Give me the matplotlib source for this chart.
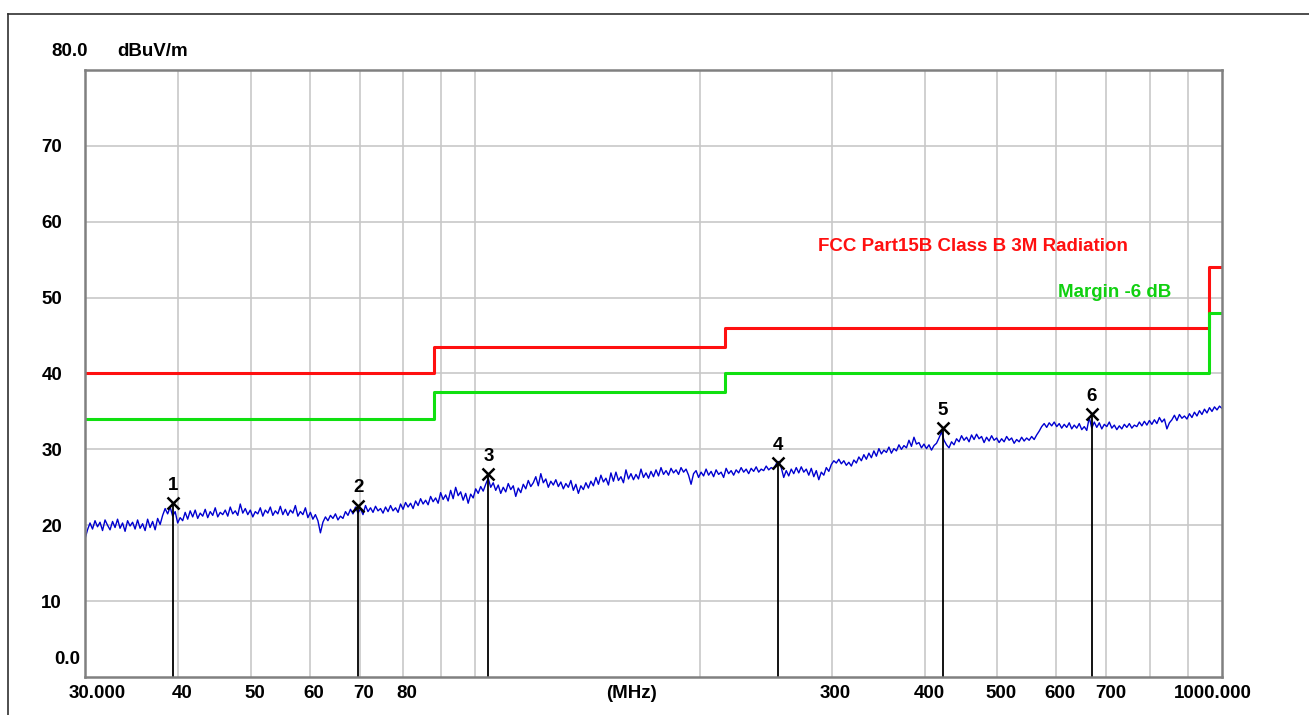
import matplotlib
matplotlib.use('Agg')

import numpy as np
import matplotlib.pyplot as plt
from matplotlib.lines import Line2D
from matplotlib import transforms

plt.rcParams['font.family'] = ['Liberation Sans', 'DejaVu Sans']
plt.rcParams['font.weight'] = 'bold'

# --- Data ---
f_start, f_stop = 30.0, 1000.0

# measured trace (dBuV/m), sweep points spaced evenly on the log axis
trace_db = [
    18.2, 19.4, 20.3, 19.5, 20.6, 19.8, 20.4, 19.3, 20.7, 20.0, 19.4, 20.5, 19.7, 20.8, 19.6, 20.3, 19.2, 20.6, 19.9, 20.4,
    19.5, 20.7, 19.6, 20.2, 19.3, 20.8, 19.7, 20.5, 19.4, 20.9, 20.1, 21.3, 22.2, 21.5, 22.4, 21.2, 21.8, 20.3, 21.0, 20.6,
    21.7, 20.8, 21.9, 21.1, 22.0, 20.9, 21.6, 21.2, 22.1, 21.0, 21.8, 21.3, 22.3, 21.1, 21.7, 21.4, 22.0, 21.2, 22.4, 21.5,
    21.9, 21.3, 22.8, 21.6, 22.2, 21.4, 22.0, 21.1, 21.8, 21.5, 22.3, 21.2, 22.0, 21.6, 22.4, 21.3, 21.9, 21.5, 22.5, 21.4,
    22.1, 21.3, 22.0, 21.6, 22.6, 21.2, 21.8, 21.4, 22.3, 21.0, 21.7, 20.8, 21.4, 20.6, 19.0, 20.4, 21.1, 20.6, 21.3, 20.9,
    21.5, 20.7, 21.2, 20.9, 21.8, 21.3, 22.1, 21.5, 22.4, 21.6, 22.2, 21.4, 22.6, 21.8, 22.3, 21.7, 22.5, 21.9, 22.2, 21.6,
    22.4, 21.8, 22.6, 21.9, 22.3, 21.7, 22.8, 22.1, 23.0, 22.4, 22.9, 22.2, 23.2, 22.6, 23.5, 22.8, 23.3, 22.7, 23.8, 23.1,
    23.6, 22.9, 24.3, 23.4, 24.0, 23.2, 24.6, 23.5, 25.0, 23.9, 24.4, 23.3, 24.2, 22.9, 24.1, 23.6, 24.8, 24.2, 25.1, 24.5,
    25.4, 26.2, 25.0, 25.6, 24.6, 25.3, 24.2, 25.0, 24.4, 25.5, 24.7, 25.2, 23.8, 24.9, 24.3, 25.4, 24.8, 25.9, 25.1, 25.6,
    26.4, 25.2, 26.8, 25.6, 26.1, 25.0, 25.8, 25.3, 26.0, 25.1, 25.7, 24.8, 25.5, 25.0, 25.9, 24.6, 25.4, 24.2, 25.2, 24.7,
    25.6, 24.9, 25.8, 25.2, 26.3, 25.4, 26.6, 25.7, 26.2, 25.3, 26.9, 25.8, 27.0, 25.9, 26.4, 25.6, 27.3, 26.1, 26.8, 26.0,
    26.7, 26.1, 27.4, 26.3, 26.9, 26.2, 27.1, 26.4, 27.3, 26.5, 27.6, 26.7, 27.2, 26.6, 27.5, 26.9, 27.3, 26.7, 27.6, 27.0,
    27.4, 26.6, 25.4, 26.8, 27.2, 26.3, 27.0, 26.5, 27.4, 26.6, 27.1, 26.4, 27.3, 26.7, 27.0, 26.3, 27.5, 26.8, 27.2, 26.6,
    27.3, 26.9, 27.6, 27.0, 27.4, 26.8, 27.5, 27.1, 27.7, 27.0, 27.4, 27.2, 27.8, 27.3, 27.6, 27.4, 28.1, 28.4, 27.6, 26.3,
    27.2, 26.5, 27.4, 26.8, 27.6, 26.9, 27.7, 27.0, 27.4, 26.6, 27.5, 26.4, 27.2, 26.0, 27.0, 26.6, 27.6, 27.1, 28.0, 28.5,
    28.2, 28.7, 28.1, 28.5, 27.9, 28.3, 27.8, 28.6, 28.2, 29.0, 28.5, 29.3, 28.7, 29.5, 28.9, 29.8, 29.1, 30.1, 29.4, 29.9,
    29.6, 30.3, 29.5, 30.1, 29.8, 30.6, 30.0, 30.5, 30.2, 31.2, 30.4, 31.6, 30.7, 30.9, 30.2, 30.7, 30.1, 30.6, 29.9, 30.5,
    30.8, 31.5, 32.3, 31.2, 30.6, 30.2, 31.0, 30.6, 31.4, 31.0, 31.8, 31.2, 31.6, 31.0, 31.9, 31.3, 32.0, 31.4, 31.7, 30.9,
    31.6, 31.1, 31.8, 31.2, 31.5, 30.9, 31.4, 31.0, 31.7, 31.2, 31.5, 30.8, 31.3, 31.0, 31.6, 31.1, 31.5, 31.2, 31.7, 31.3,
    31.9, 32.4, 33.0, 33.4, 32.9, 33.5, 33.1, 33.6, 33.0, 33.4, 32.8, 33.3, 32.9, 33.5, 32.7, 33.2, 32.8, 33.4, 32.6, 33.0,
    32.5, 34.2, 32.8, 33.6, 32.9, 33.5, 32.7, 33.3, 33.0, 33.6, 32.8, 33.2, 32.6, 33.1, 32.7, 33.3, 32.9, 33.4, 32.8, 33.2,
    33.0, 33.6, 33.1, 33.7, 33.2, 33.8, 33.3, 33.9, 33.4, 34.2, 33.6, 34.0, 32.7, 33.5, 33.9, 34.5, 33.8, 34.6, 34.1, 34.4,
    34.0, 34.7, 34.2, 34.9, 34.4, 35.1, 34.6, 35.3, 34.8, 35.5, 35.0, 35.6, 35.2, 35.7, 35.4,
]
trace_freq = np.geomspace(f_start, f_stop, len(trace_db))

# FCC Part 15B class B limit (3 m) and -6 dB margin, as steps
limit_freq = [30, 88, 216, 960, 1000]
limit_db = [40.0, 43.5, 46.0, 54.0, 54.0]
margin_db = [34.0, 37.5, 40.0, 48.0, 48.0]

# peak markers
marker_id = ['1', '2', '3', '4', '5', '6']
marker_freq = [39.4, 69.7, 104.1, 254.3, 422.6, 669.0]
marker_db = [22.9, 22.6, 26.7, 28.2, 32.8, 34.7]

grid_freqs = [40, 50, 60, 70, 80, 90, 100, 200, 300, 400, 500, 600, 700, 800, 900]
xlabel_freqs = [30, 40, 50, 60, 70, 80, 300, 400, 500, 600, 700, 1000]
xlabel_text = ['30.000', '40', '50', '60', '70', '80', '300', '400', '500', '600', '700', '1000.000']
ytick_vals = [10, 20, 30, 40, 50, 60, 70]

FS = 13.5

# --- Plotting ---
fig = plt.figure(figsize=(13.09, 7.15), dpi=100)
ax = fig.add_axes([85 / 1309, 1 - 677 / 715, 1137 / 1309, 607 / 715])

ax.set_xscale('log')
ax.set_xlim(f_start, f_stop)
ax.set_ylim(0, 80)

ax.set_xticks(grid_freqs)
ax.set_xticks([], minor=True)
ax.set_xticklabels([])
ax.set_yticks(ytick_vals)
ax.set_yticklabels([str(v) for v in ytick_vals], fontsize=FS, fontweight='bold')
ax.tick_params(axis='both', length=0, pad=16.5)
ax.grid(True, color='#c8c8c8', linewidth=1.2)
ax.set_axisbelow(True)
for s in ax.spines.values():
    s.set_color('#808080')
    s.set_linewidth(1.8)

ax.step(limit_freq, limit_db, where='post', color='#ff1010', linewidth=2.2)
ax.step(limit_freq, margin_db, where='post', color='#10e010', linewidth=2.2)

ax.plot(trace_freq, trace_db, color='#0000d0', linewidth=1.0)

for mid, mf, md in zip(marker_id, marker_freq, marker_db):
    ax.plot([mf, mf], [0, md], color='black', linewidth=1.3)
    ax.plot(mf, md, marker='x', color='black', markersize=9, markeredgewidth=1.8)
    ax.text(mf, md + 1.2, mid, ha='center', va='bottom', fontsize=FS, fontweight='bold')

ax.text(287.6, 56.8, 'FCC Part15B Class B 3M Radiation', color='#ff1010',
        fontsize=FS, fontweight='bold', ha='left', va='center')
ax.text(603, 50.7, 'Margin -6 dB', color='#10d010',
        fontsize=FS, fontweight='bold', ha='left', va='center')

# x labels below the axis
xt = transforms.blended_transform_factory(ax.transData, ax.transAxes)
for f, lab in zip(xlabel_freqs, xlabel_text):
    dx = 4
    if lab == '30.000':
        dx = 12
    elif lab == '1000.000':
        dx = -9
    off = transforms.offset_copy(xt, fig=fig, x=dx * 72 / 100, y=0, units='points')
    ax.text(f, -0.013, lab, transform=off, ha='center', va='top', fontsize=FS, fontweight='bold')
ax.text(162, -0.013, '(MHz)', transform=xt, ha='center', va='top', fontsize=FS, fontweight='bold')

# top / bottom y labels and unit
fig.text(88 / 1309, 1 - 52 / 715, '80.0', ha='right', va='center', fontsize=FS, fontweight='bold')
fig.text(117 / 1309, 1 - 52 / 715, 'dBuV/m', ha='left', va='center', fontsize=FS, fontweight='bold')
fig.text(80 / 1309, 1 - 659 / 715, '0.0', ha='right', va='center', fontsize=FS, fontweight='bold')

# outer frame
fig.add_artist(Line2D([8 / 1309, 1.0], [1 - 14 / 715, 1 - 14 / 715], color='#303030', linewidth=1.2))
fig.add_artist(Line2D([8 / 1309, 8 / 1309], [0.0, 1 - 14 / 715], color='#303030', linewidth=1.2))

plt.savefig('out.png', dpi=100)
